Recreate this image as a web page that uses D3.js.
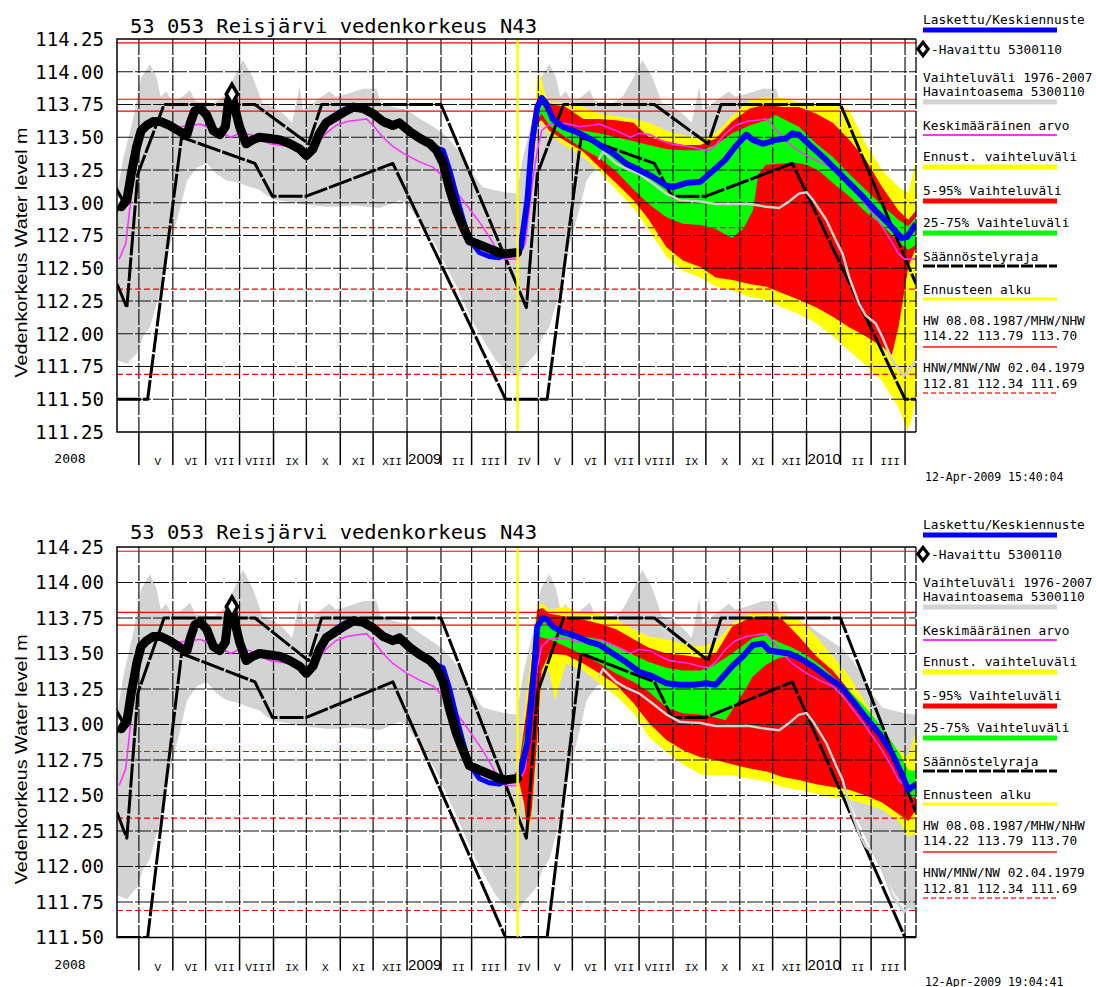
<!DOCTYPE html>
<html><head><meta charset="utf-8">
<script src="https://cdn.jsdelivr.net/npm/d3@7/dist/d3.min.js"></script>
<style>
html,body{margin:0;padding:0;background:#fff;}
svg{display:block;}
</style></head><body>
<svg id="chart" width="1096" height="987" xmlns="http://www.w3.org/2000/svg"></svg>
<script>
// ---------------- DATA ----------------
const titleText = "53 053 Reisjärvi vedenkorkeus N43";
const yAxisTitle = "Vedenkorkeus Water level m";
const yTickLabelsTop = ["114.25","114.00","113.75","113.50","113.25","113.00","112.75","112.50","112.25","112.00","111.75","111.50","111.25"];
const yTickLabelsBottom = ["114.25","114.00","113.75","113.50","113.25","113.00","112.75","112.50","112.25","112.00","111.75","111.50"];
const monthLabels = ["V","VI","VII","VIII","IX","X","XI","XII","2009","II","III","IV","V","VI","VII","VIII","IX","X","XI","XII","2010","II","III"];
const firstYearLabel = "2008";
const timestamps = ["12-Apr-2009 15:40:04", "12-Apr-2009 19:04:41"];
const highLevels = [114.22, 113.79, 113.70];
const lowLevels = [112.81, 112.34, 111.69];
const forecastStart = "2009-04-12";
const dateDomain = ["2008-04-11", "2010-04-11"];

// observed water level (Havaittu 5300110)
const observed = [["2008-04-11",113.02],["2008-04-15",112.97],["2008-04-20",113.02],["2008-04-24",113.22],["2008-04-29",113.43],["2008-05-03",113.55],["2008-05-08",113.59],["2008-05-14",113.62],["2008-05-21",113.62],["2008-05-29",113.59],["2008-06-08",113.54],["2008-06-14",113.52],["2008-06-17",113.61],["2008-06-21",113.70],["2008-06-26",113.72],["2008-07-02",113.67],["2008-07-08",113.55],["2008-07-14",113.52],["2008-07-19",113.58],["2008-07-22",113.78],["2008-07-25",113.83],["2008-07-28",113.71],["2008-08-01",113.58],["2008-08-07",113.45],["2008-08-13",113.48],["2008-08-19",113.50],["2008-08-29",113.49],["2008-09-07",113.48],["2008-09-16",113.45],["2008-09-25",113.41],["2008-10-01",113.36],["2008-10-07",113.41],["2008-10-13",113.53],["2008-10-19",113.61],["2008-10-25",113.64],["2008-11-04",113.69],["2008-11-13",113.73],["2008-11-22",113.72],["2008-12-01",113.68],["2008-12-10",113.62],["2008-12-19",113.59],["2008-12-25",113.61],["2009-01-04",113.54],["2009-01-13",113.49],["2009-01-22",113.45],["2009-01-28",113.40],["2009-02-03",113.30],["2009-02-09",113.10],["2009-02-15",112.94],["2009-02-21",112.82],["2009-02-27",112.71],["2009-03-08",112.68],["2009-03-17",112.65],["2009-03-26",112.62],["2009-04-01",112.61],["2009-04-12",112.62]];

// computed level before forecast start (Laskettu)
const computedHist = [["2008-04-11",113.02],["2008-04-15",112.97],["2008-04-20",113.02],["2008-04-24",113.22],["2008-04-29",113.43],["2008-05-03",113.55],["2008-05-08",113.59],["2008-05-14",113.62],["2008-05-21",113.62],["2008-05-29",113.59],["2008-06-08",113.54],["2008-06-14",113.52],["2008-06-17",113.61],["2008-06-21",113.70],["2008-06-26",113.72],["2008-07-02",113.67],["2008-07-08",113.55],["2008-07-14",113.52],["2008-07-19",113.62],["2008-07-22",113.70],["2008-07-25",113.72],["2008-07-28",113.68],["2008-08-01",113.58],["2008-08-07",113.45],["2008-08-13",113.48],["2008-08-19",113.50],["2008-08-29",113.49],["2008-09-07",113.48],["2008-09-16",113.45],["2008-09-25",113.41],["2008-10-01",113.36],["2008-10-07",113.41],["2008-10-13",113.53],["2008-10-19",113.61],["2008-10-25",113.66],["2008-11-04",113.71],["2008-11-13",113.73],["2008-11-22",113.72],["2008-12-01",113.68],["2008-12-10",113.62],["2008-12-19",113.59],["2008-12-25",113.61],["2009-01-04",113.54],["2009-01-13",113.49],["2009-01-22",113.45],["2009-01-28",113.42],["2009-02-03",113.40],["2009-02-09",113.25],["2009-02-15",113.06],["2009-02-21",112.88],["2009-02-27",112.72],["2009-03-08",112.62],["2009-03-17",112.59],["2009-03-26",112.58],["2009-04-01",112.60],["2009-04-12",112.62]];

// historical range 1976-2007 (one seasonal cycle, starts 11 April)
const climHigh = [["2008-04-11",113.07],["2008-04-17",113.35],["2008-04-26",113.65],["2008-05-03",113.95],["2008-05-11",114.06],["2008-05-17",113.96],["2008-05-21",113.81],["2008-05-26",113.85],["2008-05-31",113.78],["2008-06-08",113.80],["2008-06-17",113.86],["2008-06-21",113.78],["2008-06-29",113.77],["2008-07-08",113.76],["2008-07-17",113.81],["2008-07-26",113.94],["2008-08-04",114.09],["2008-08-13",113.96],["2008-08-22",113.76],["2008-09-01",113.73],["2008-09-10",113.68],["2008-09-18",113.61],["2008-09-25",113.89],["2008-09-28",113.71],["2008-10-07",113.76],["2008-10-15",113.81],["2008-10-22",113.85],["2008-10-28",113.81],["2008-11-07",113.83],["2008-11-22",113.87],["2008-12-04",113.87],["2008-12-08",113.76],["2008-12-19",113.73],["2009-01-01",113.71],["2009-01-13",113.64],["2009-01-25",113.58],["2009-02-03",113.53],["2009-02-12",113.45],["2009-02-21",113.35],["2009-03-02",113.22],["2009-03-11",113.12],["2009-03-20",113.10],["2009-04-01",113.08],["2009-04-11",113.07]];
const climLow = [["2008-04-11",111.80],["2008-04-20",111.77],["2008-04-29",111.85],["2008-05-05",111.98],["2008-05-11",112.05],["2008-05-20",112.31],["2008-05-29",112.66],["2008-06-08",112.97],["2008-06-14",113.17],["2008-06-23",113.27],["2008-07-02",113.30],["2008-07-11",113.22],["2008-07-20",113.17],["2008-08-01",113.15],["2008-08-10",113.12],["2008-08-19",113.10],["2008-08-25",113.06],["2008-09-04",113.02],["2008-09-13",113.01],["2008-09-25",112.99],["2008-10-07",112.98],["2008-10-19",112.97],["2008-11-01",112.97],["2008-11-13",112.98],["2008-11-25",112.97],["2008-12-07",112.96],["2008-12-16",112.99],["2008-12-25",113.02],["2009-01-01",112.99],["2009-01-10",112.89],["2009-01-19",112.79],["2009-01-28",112.66],["2009-02-06",112.51],["2009-02-15",112.36],["2009-02-24",112.20],["2009-03-05",112.05],["2009-03-14",111.92],["2009-03-23",111.80],["2009-04-01",111.72],["2009-04-11",111.68]];
// mean (Keskimääräinen arvo), one seasonal cycle
const climMean = [["2008-04-13",112.57],["2008-04-19",112.69],["2008-04-25",113.12],["2008-04-30",113.40],["2008-05-04",113.55],["2008-05-11",113.60],["2008-05-20",113.61],["2008-05-29",113.60],["2008-06-07",113.58],["2008-06-17",113.59],["2008-06-26",113.60],["2008-07-05",113.57],["2008-07-14",113.54],["2008-07-24",113.50],["2008-08-01",113.53],["2008-08-11",113.52],["2008-08-20",113.48],["2008-08-29",113.45],["2008-09-07",113.44],["2008-09-16",113.43],["2008-09-25",113.41],["2008-10-04",113.40],["2008-10-10",113.44],["2008-10-19",113.53],["2008-10-28",113.59],["2008-11-07",113.62],["2008-11-16",113.63],["2008-11-25",113.64],["2008-12-01",113.59],["2008-12-10",113.50],["2008-12-19",113.43],["2009-01-01",113.36],["2009-01-13",113.31],["2009-01-25",113.27],["2009-02-03",113.20],["2009-02-12",113.11],["2009-02-21",113.02],["2009-03-02",112.92],["2009-03-11",112.82],["2009-03-20",112.70],["2009-03-26",112.61],["2009-04-01",112.57],["2009-04-12",112.57]];

// regulation limits (Säännöstelyraja)
const upperLimit = [["2008-04-11",112.38],["2008-04-20",112.20],["2008-04-30",113.22],["2008-05-24",113.75],["2008-08-15",113.75],["2008-10-03",113.45],["2008-10-15",113.75],["2009-02-01",113.75],["2009-04-20",112.20],["2009-04-30",113.22],["2009-05-24",113.75],["2009-08-15",113.75],["2009-10-03",113.45],["2009-10-15",113.75],["2010-02-01",113.75],["2010-04-11",112.38]];
const lowerLimit = [["2008-04-11",111.50],["2008-05-09",111.50],["2008-06-09",113.50],["2008-08-15",113.30],["2008-08-31",113.05],["2008-10-01",113.05],["2008-12-19",113.30],["2009-04-01",111.50],["2009-05-09",111.50],["2009-06-09",113.50],["2009-08-15",113.30],["2009-08-31",113.05],["2009-10-01",113.05],["2009-12-19",113.30],["2010-04-01",111.50],["2010-04-11",111.50]];

// light grey line in forecast period
const greyLine = [["2009-06-25",113.33],["2009-06-29",113.39],["2009-07-11",113.30],["2009-07-20",113.26],["2009-08-01",113.22],["2009-08-13",113.15],["2009-08-26",113.07],["2009-09-07",113.02],["2009-09-26",113.01],["2009-10-10",112.99],["2009-10-25",112.99],["2009-11-10",112.99],["2009-11-25",112.97],["2009-12-07",112.96],["2009-12-16",113.01],["2009-12-25",113.07],["2010-01-01",113.08],["2010-01-07",113.02],["2010-01-19",112.87],["2010-01-28",112.71],["2010-02-03",112.61],["2010-02-09",112.43],["2010-02-18",112.23],["2010-02-24",112.14],["2010-03-05",112.08],["2010-03-11",111.98],["2010-03-20",111.80],["2010-03-31",111.68],["2010-04-07",111.75],["2010-04-11",111.80]];

// ---- forecast run 1 (15:40) ----
const run1Mean = [["2009-04-12",112.62],["2009-04-15",112.66],["2009-04-21",113.02],["2009-04-25",113.45],["2009-04-30",113.73],["2009-05-04",113.80],["2009-05-08",113.76],["2009-05-14",113.64],["2009-05-23",113.58],["2009-06-05",113.54],["2009-06-17",113.49],["2009-06-26",113.44],["2009-07-08",113.38],["2009-07-20",113.30],["2009-08-01",113.25],["2009-08-13",113.20],["2009-08-26",113.13],["2009-09-01",113.12],["2009-09-13",113.15],["2009-09-26",113.16],["2009-10-07",113.24],["2009-10-19",113.33],["2009-10-28",113.43],["2009-11-07",113.52],["2009-11-13",113.48],["2009-11-22",113.45],["2009-12-04",113.48],["2009-12-13",113.49],["2009-12-19",113.53],["2009-12-25",113.52],["2010-01-04",113.44],["2010-01-16",113.35],["2010-01-28",113.25],["2010-02-09",113.15],["2010-02-21",113.05],["2010-03-05",112.94],["2010-03-17",112.84],["2010-03-29",112.73],["2010-04-03",112.74],["2010-04-11",112.84]];
const run1YellowHi = [["2009-04-12",112.62],["2009-04-18",112.87],["2009-04-24",113.33],["2009-04-30",113.94],["2009-05-02",114.00],["2009-05-07",113.83],["2009-05-11",113.77],["2009-05-26",113.76],["2009-06-11",113.73],["2009-06-26",113.68],["2009-07-11",113.66],["2009-07-27",113.64],["2009-08-10",113.61],["2009-08-26",113.55],["2009-09-10",113.52],["2009-09-26",113.49],["2009-10-10",113.53],["2009-10-25",113.66],["2009-11-10",113.78],["2009-11-25",113.81],["2009-12-10",113.80],["2009-12-25",113.77],["2010-01-10",113.75],["2010-01-25",113.75],["2010-02-09",113.71],["2010-02-24",113.45],["2010-03-11",113.25],["2010-03-26",113.12],["2010-04-04",113.07],["2010-04-11",113.33]];
const run1YellowLo = [["2009-04-12",112.62],["2009-04-18",112.71],["2009-04-24",113.08],["2009-04-30",113.58],["2009-05-04",113.61],["2009-05-11",113.52],["2009-05-26",113.43],["2009-06-11",113.35],["2009-06-26",113.24],["2009-07-11",113.10],["2009-07-27",112.96],["2009-08-10",112.79],["2009-08-26",112.59],["2009-09-10",112.48],["2009-09-26",112.43],["2009-10-10",112.36],["2009-10-25",112.33],["2009-11-10",112.28],["2009-11-25",112.26],["2009-12-10",112.20],["2009-12-25",112.15],["2010-01-10",112.08],["2010-01-25",111.98],["2010-02-09",111.87],["2010-02-24",111.76],["2010-03-11",111.64],["2010-03-26",111.44],["2010-04-03",111.26],["2010-04-07",111.34],["2010-04-11",111.54]];
const run1RedHi = [["2009-04-12",112.62],["2009-04-18",112.82],["2009-04-24",113.25],["2009-04-30",113.78],["2009-05-04",113.81],["2009-05-11",113.76],["2009-05-26",113.73],["2009-06-11",113.64],["2009-06-26",113.64],["2009-07-11",113.63],["2009-07-27",113.61],["2009-08-10",113.50],["2009-08-26",113.47],["2009-09-10",113.44],["2009-09-26",113.44],["2009-10-10",113.49],["2009-10-25",113.62],["2009-11-10",113.72],["2009-11-25",113.75],["2009-12-10",113.73],["2009-12-25",113.73],["2010-01-10",113.68],["2010-01-25",113.61],["2010-02-09",113.48],["2010-02-24",113.33],["2010-03-11",113.12],["2010-03-26",112.94],["2010-04-04",112.87],["2010-04-11",112.94]];
const run1RedLo = [["2009-04-12",112.62],["2009-04-18",112.74],["2009-04-24",113.12],["2009-04-30",113.61],["2009-05-04",113.63],["2009-05-11",113.55],["2009-05-26",113.47],["2009-06-11",113.39],["2009-06-26",113.27],["2009-07-11",113.15],["2009-07-27",113.02],["2009-08-10",112.87],["2009-08-26",112.66],["2009-09-10",112.56],["2009-09-26",112.51],["2009-10-10",112.43],["2009-10-25",112.41],["2009-11-10",112.38],["2009-11-25",112.36],["2009-12-10",112.31],["2009-12-25",112.26],["2010-01-10",112.20],["2010-01-25",112.13],["2010-02-09",112.05],["2010-02-24",111.98],["2010-03-11",111.90],["2010-03-20",111.84],["2010-03-26",112.05],["2010-04-04",112.51],["2010-04-11",112.66]];
const run1GreenHi = [["2009-04-12",112.62],["2009-04-18",112.79],["2009-04-24",113.21],["2009-04-30",113.71],["2009-05-04",113.76],["2009-05-11",113.66],["2009-05-26",113.59],["2009-06-11",113.55],["2009-06-26",113.53],["2009-07-11",113.50],["2009-07-27",113.47],["2009-08-10",113.44],["2009-08-26",113.41],["2009-09-10",113.40],["2009-09-26",113.40],["2009-10-10",113.44],["2009-10-25",113.53],["2009-11-10",113.59],["2009-11-25",113.63],["2009-12-04",113.67],["2009-12-13",113.63],["2009-12-25",113.58],["2010-01-10",113.45],["2010-01-25",113.35],["2010-02-09",113.22],["2010-02-24",113.10],["2010-03-11",112.98],["2010-03-26",112.87],["2010-04-04",112.82],["2010-04-11",112.89]];
const run1GreenLo = [["2009-04-12",112.62],["2009-04-18",112.76],["2009-04-24",113.17],["2009-04-30",113.64],["2009-05-04",113.68],["2009-05-11",113.59],["2009-05-26",113.50],["2009-06-11",113.41],["2009-06-26",113.34],["2009-07-11",113.24],["2009-07-27",113.10],["2009-08-10",112.99],["2009-08-26",112.89],["2009-09-10",112.84],["2009-09-26",112.83],["2009-10-10",112.80],["2009-10-25",112.73],["2009-11-04",112.80],["2009-11-13",112.94],["2009-11-18",113.22],["2009-11-25",113.29],["2009-12-10",113.30],["2009-12-19",113.31],["2010-01-01",113.29],["2010-01-13",113.24],["2010-01-25",113.15],["2010-02-09",113.05],["2010-02-24",112.93],["2010-03-11",112.83],["2010-03-26",112.70],["2010-04-04",112.64],["2010-04-11",112.68]];

// ---- forecast run 2 (19:04) ----
const run2Mean = [["2009-04-12",112.64],["2009-04-15",112.68],["2009-04-21",112.87],["2009-04-27",113.38],["2009-04-30",113.69],["2009-05-05",113.75],["2009-05-09",113.74],["2009-05-14",113.69],["2009-05-23",113.65],["2009-06-05",113.62],["2009-06-17",113.58],["2009-06-26",113.56],["2009-07-08",113.50],["2009-07-20",113.44],["2009-08-01",113.37],["2009-08-13",113.34],["2009-08-26",113.29],["2009-09-07",113.28],["2009-09-20",113.28],["2009-10-01",113.29],["2009-10-10",113.28],["2009-10-17",113.34],["2009-10-25",113.41],["2009-11-04",113.48],["2009-11-13",113.56],["2009-11-22",113.57],["2009-11-28",113.52],["2009-12-07",113.51],["2009-12-16",113.50],["2009-12-25",113.47],["2010-01-07",113.41],["2010-01-19",113.34],["2010-02-01",113.27],["2010-02-12",113.17],["2010-02-24",113.05],["2010-03-08",112.94],["2010-03-20",112.80],["2010-03-29",112.65],["2010-04-04",112.54],["2010-04-11",112.58]];
const run2YellowHi = [["2009-04-12",112.64],["2009-04-21",113.27],["2009-04-30",113.85],["2009-05-05",113.85],["2009-05-11",113.81],["2009-05-26",113.83],["2009-06-11",113.78],["2009-06-26",113.78],["2009-07-11",113.74],["2009-07-27",113.67],["2009-08-10",113.62],["2009-08-26",113.60],["2009-09-10",113.57],["2009-09-26",113.55],["2009-10-10",113.58],["2009-10-25",113.71],["2009-11-10",113.78],["2009-11-25",113.78],["2009-12-10",113.78],["2009-12-25",113.74],["2010-01-10",113.62],["2010-01-25",113.48],["2010-02-09",113.34],["2010-02-24",113.15],["2010-03-11",112.96],["2010-03-26",112.82],["2010-04-04",112.77],["2010-04-11",112.96]];
const run2YellowLo = [["2009-04-12",112.64],["2009-04-18",112.40],["2009-04-21",112.21],["2009-04-25",112.35],["2009-04-30",112.87],["2009-05-04",113.31],["2009-05-11",113.38],["2009-05-16",113.17],["2009-05-20",113.27],["2009-05-26",113.43],["2009-06-11",113.38],["2009-06-26",113.29],["2009-07-11",113.20],["2009-07-27",113.08],["2009-08-10",112.91],["2009-08-26",112.81],["2009-09-10",112.72],["2009-09-26",112.65],["2009-10-10",112.64],["2009-10-25",112.64],["2009-11-10",112.62],["2009-11-25",112.60],["2009-12-10",112.56],["2009-12-25",112.54],["2010-01-10",112.51],["2010-01-25",112.49],["2010-02-09",112.47],["2010-02-24",112.44],["2010-03-11",112.40],["2010-03-26",112.32],["2010-04-04",112.21],["2010-04-11",112.23]];
const run2RedHi = [["2009-04-12",112.64],["2009-04-21",113.15],["2009-04-30",113.81],["2009-05-05",113.82],["2009-05-11",113.78],["2009-05-26",113.76],["2009-06-11",113.74],["2009-06-26",113.71],["2009-07-11",113.67],["2009-07-27",113.60],["2009-08-10",113.54],["2009-08-26",113.50],["2009-09-10",113.49],["2009-09-26",113.47],["2009-10-10",113.50],["2009-10-25",113.69],["2009-11-10",113.75],["2009-11-25",113.76],["2009-12-10",113.74],["2009-12-25",113.62],["2010-01-10",113.48],["2010-01-25",113.38],["2010-02-09",113.24],["2010-02-24",113.08],["2010-03-11",112.89],["2010-03-26",112.72],["2010-04-04",112.65],["2010-04-11",112.68]];
const run2RedLo = [["2009-04-12",112.64],["2009-04-18",112.44],["2009-04-21",112.23],["2009-04-25",112.40],["2009-04-30",112.91],["2009-05-04",113.38],["2009-05-11",113.50],["2009-05-26",113.49],["2009-06-11",113.43],["2009-06-26",113.36],["2009-07-11",113.28],["2009-07-27",113.15],["2009-08-10",113.01],["2009-08-26",112.89],["2009-09-10",112.82],["2009-09-26",112.77],["2009-10-10",112.75],["2009-10-25",112.72],["2009-11-10",112.69],["2009-11-25",112.67],["2009-12-10",112.63],["2009-12-25",112.61],["2010-01-10",112.58],["2010-01-25",112.56],["2010-02-09",112.54],["2010-02-24",112.50],["2010-03-11",112.45],["2010-03-26",112.37],["2010-04-04",112.32],["2010-04-11",112.40]];
const run2GreenHi = [["2009-04-12",112.64],["2009-04-21",113.03],["2009-04-30",113.74],["2009-05-05",113.76],["2009-05-14",113.70],["2009-05-26",113.65],["2009-06-11",113.62],["2009-06-26",113.60],["2009-07-11",113.55],["2009-07-27",113.49],["2009-08-10",113.44],["2009-08-26",113.40],["2009-09-10",113.38],["2009-09-26",113.38],["2009-10-07",113.41],["2009-10-19",113.47],["2009-11-01",113.54],["2009-11-13",113.61],["2009-11-25",113.63],["2009-12-07",113.58],["2009-12-19",113.54],["2010-01-01",113.49],["2010-01-13",113.42],["2010-01-25",113.34],["2010-02-09",113.24],["2010-02-24",113.12],["2010-03-11",112.98],["2010-03-26",112.81],["2010-04-04",112.68],["2010-04-11",112.67]];
const run2GreenLo = [["2009-04-12",112.64],["2009-04-21",112.91],["2009-04-30",113.62],["2009-05-11",113.60],["2009-05-26",113.55],["2009-06-11",113.49],["2009-06-26",113.43],["2009-07-11",113.36],["2009-07-27",113.30],["2009-08-10",113.23],["2009-08-26",113.12],["2009-09-10",113.08],["2009-09-26",113.07],["2009-10-10",113.05],["2009-10-19",113.03],["2009-10-25",113.10],["2009-11-04",113.22],["2009-11-13",113.34],["2009-11-25",113.42],["2009-12-07",113.47],["2009-12-19",113.48],["2010-01-01",113.42],["2010-01-13",113.36],["2010-01-25",113.29],["2010-02-09",113.17],["2010-02-24",113.04],["2010-03-11",112.89],["2010-03-26",112.70],["2010-04-04",112.48],["2010-04-11",112.49]];

const legendTexts = {
  mean: "Laskettu/Keskiennuste", obs: "-Havaittu 5300110",
  range1: "Vaihteluväli 1976-2007", range2: "Havaintoasema 5300110",
  avg: "Keskimääräinen arvo", fcRange: "Ennust. vaihteluväli",
  r595: "5-95% Vaihteluväli", r2575: "25-75% Vaihteluväli",
  reg: "Säännöstelyraja", start: "Ennusteen alku",
  hw1: "HW 08.08.1987/MHW/NHW", hw2: "114.22 113.79 113.70",
  nw1: "HNW/MNW/NW 02.04.1979", nw2: "112.81 112.34 111.69"
};

// ---------------- DRAWING ----------------
const parse = d3.utcParse("%Y-%m-%d");
const P = arr => arr.map(([d, v]) => [parse(d), v]);
const nextYear = arr => arr.map(([d, v]) => [d3.utcYear.offset(d, 1), v]);

const x = d3.scaleUtc().domain(dateDomain.map(parse)).range([117, 916]);
const svg = d3.select("#chart");
const defs = svg.append("defs");
const MONO = "'DejaVu Sans Mono', monospace";
const SERIFMONO = "'Liberation Mono', monospace";
const SANS = "'Liberation Sans', Arial, sans-serif";

const climHighAll = P(climHigh).concat(nextYear(P(climHigh)).slice(1));
const climLowAll = P(climLow).concat(nextYear(P(climLow)).slice(1));
const climMeanAll = P(climMean).concat(nextYear(P(climMean)).slice(1));

const panels = [
  { id: "a", yTicks: yTickLabelsTop, range: [432, 39], off: 0, titleOff: 0, stamp: timestamps[0],
    fc: { mean: run1Mean, yHi: run1YellowHi, yLo: run1YellowLo, rHi: run1RedHi, rLo: run1RedLo, gHi: run1GreenHi, gLo: run1GreenLo } },
  { id: "b", yTicks: yTickLabelsBottom, range: [937.5, 547], off: 505, titleOff: 506, stamp: timestamps[1],
    fc: { mean: run2Mean, yHi: run2YellowHi, yLo: run2YellowLo, rHi: run2RedHi, rLo: run2RedLo, gHi: run2GreenHi, gLo: run2GreenLo } }
];

panels.forEach(p => {
  const vals = p.yTicks.map(Number);
  const y = d3.scaleLinear().domain([d3.min(vals), d3.max(vals)]).range(p.range);
  const x0 = x.range()[0], x1 = x.range()[1];
  const yB = p.range[0], yT = p.range[1];
  const g = svg.append("g");
  defs.append("clipPath").attr("id", "clip" + p.id)
    .append("rect").attr("x", x0).attr("y", yT).attr("width", x1 - x0).attr("height", yB - yT);
  const plot = g.append("g").attr("clip-path", `url(#clip${p.id})`);
  const line = d3.line().x(d => x(d[0])).y(d => y(d[1]));
  const poly = (hi, lo) => line(hi.concat(lo.slice().reverse())) + "Z";

  // historical range band
  plot.append("path").attr("d", poly(climHighAll, climLowAll)).attr("fill", "#d3d3d3");
  // forecast bands
  const f = p.fc;
  plot.append("path").attr("d", poly(P(f.yHi), P(f.yLo))).attr("fill", "#ffff00");
  plot.append("path").attr("d", poly(P(f.rHi), P(f.rLo))).attr("fill", "#ff0000");
  plot.append("path").attr("d", poly(P(f.gHi), P(f.gLo))).attr("fill", "#00ff00");

  // grid
  const months = d3.utcMonth.range(parse("2008-05-01"), parse("2010-04-02"));
  plot.append("g").selectAll("line").data(vals.slice(1, -1)).join("line")
    .attr("x1", x0).attr("x2", x1).attr("y1", d => y(d)).attr("y2", d => y(d))
    .attr("stroke", "#111").attr("stroke-width", 1.2).attr("stroke-dasharray", "16,2");
  plot.append("g").selectAll("line").data(months).join("line")
    .attr("x1", d => x(d)).attr("x2", d => x(d)).attr("y1", yT).attr("y2", yB)
    .attr("stroke", "#111").attr("stroke-width", 1.2).attr("stroke-dasharray", "16,2");

  // reference levels
  plot.append("g").selectAll("line").data(highLevels).join("line")
    .attr("x1", x0).attr("x2", x1).attr("y1", d => y(d)).attr("y2", d => y(d))
    .attr("stroke", "#ff0000").attr("stroke-width", 1.2);
  plot.append("g").selectAll("line").data(lowLevels).join("line")
    .attr("x1", x0).attr("x2", x1).attr("y1", d => y(d)).attr("y2", d => y(d))
    .attr("stroke", "#ff0000").attr("stroke-width", 1.2).attr("stroke-dasharray", "6,3");

  // regulation limits
  [upperLimit, lowerLimit].forEach(arr => {
    plot.append("path").attr("d", line(P(arr))).attr("fill", "none")
      .attr("stroke", "#000").attr("stroke-width", 3).attr("stroke-dasharray", "24,2")
      .attr("stroke-linejoin", "round");
  });

  // light grey line
  plot.append("path").attr("d", line(P(greyLine))).attr("fill", "none")
    .attr("stroke", "#d0d0d0").attr("stroke-width", 2.5);
  // mean
  plot.append("path").attr("d", line(climMeanAll)).attr("fill", "none")
    .attr("stroke", "#ff33ff").attr("stroke-width", 1.6);
  // computed + forecast mean
  plot.append("path").attr("d", line(P(computedHist))).attr("fill", "none")
    .attr("stroke", "#0000ff").attr("stroke-width", 5).attr("stroke-linejoin", "round");
  plot.append("path").attr("d", line(P(f.mean))).attr("fill", "none")
    .attr("stroke", "#0000ff").attr("stroke-width", 6).attr("stroke-linejoin", "round");
  // observed
  const obs = P(observed);
  plot.append("path").attr("d", line(obs)).attr("fill", "none")
    .attr("stroke", "#000").attr("stroke-width", 9).attr("stroke-linejoin", "round").attr("stroke-linecap", "round");
  const diamond = d3.symbol(d3.symbolDiamond).size(110);
  [obs[0], obs[20]].forEach(d => {
    plot.append("path").attr("d", diamond()).attr("transform", `translate(${x(d[0])},${y(d[1])})`)
      .attr("fill", "#fff").attr("stroke", "#000").attr("stroke-width", 3.5);
  });
  // forecast start
  plot.append("line").attr("x1", x(parse(forecastStart))).attr("x2", x(parse(forecastStart)))
    .attr("y1", yT).attr("y2", yB).attr("stroke", "#ffff00").attr("stroke-width", 2.5);

  // frame
  g.append("path").attr("d", `M${x1},${yT}H${x0}V${yB}H${x1}`).attr("fill", "none").attr("stroke", "#000").attr("stroke-width", 1.5);
  g.append("line").attr("x1", x1).attr("x2", x1).attr("y1", yT).attr("y2", yB)
    .attr("stroke", "#000").attr("stroke-width", 1.3).attr("stroke-dasharray", "16,2");

  // y tick labels
  g.append("g").selectAll("text").data(p.yTicks).join("text")
    .attr("x", 104).attr("y", d => y(+d)).attr("dy", "0.36em").attr("text-anchor", "end")
    .attr("font-family", MONO).attr("font-size", 19).text(d => d);
  // y axis title
  g.append("text").attr("transform", `translate(27,${(yT + yB) / 2 + 17}) rotate(-90)`)
    .attr("text-anchor", "middle").attr("font-family", SANS).attr("font-size", 17)
    .attr("textLength", 250).attr("lengthAdjust", "spacingAndGlyphs").text(yAxisTitle);
  // title
  g.append("text").attr("x", 130).attr("y", 33 + p.titleOff).attr("font-family", MONO).attr("font-size", 20)
    .attr("textLength", 407).attr("lengthAdjust", "spacingAndGlyphs").text(titleText);

  // x axis ticks & labels
  g.append("g").selectAll("line").data(months).join("line")
    .attr("x1", d => x(d)).attr("x2", d => x(d)).attr("y1", yB).attr("y2", yB + 33)
    .attr("stroke", "#000").attr("stroke-width", 1.5);
  const labMonths = months.slice(0, monthLabels.length);
  labMonths.forEach((m, i) => {
    const lab = monthLabels[i];
    const isYear = /^\d{4}$/.test(lab);
    if (isYear) {
      g.append("text").attr("x", x(m) + 1).attr("y", yB + 32).attr("font-family", SANS)
        .attr("font-size", 15).text(lab);
    } else {
      const mid = (x(m) + x(d3.utcMonth.offset(m, 1))) / 2;
      g.append("text").attr("x", mid + 2).attr("y", yB + 33).attr("text-anchor", "middle")
        .attr("font-family", SERIFMONO).attr("font-size", 11).text(lab);
    }
  });
  g.append("text").attr("x", 70).attr("y", yB + 31).attr("text-anchor", "middle")
    .attr("font-family", MONO).attr("font-size", 13).text(firstYearLabel);

  // legend
  const L = g.append("g").attr("transform", `translate(0,${p.off})`);
  const lx = 923, lw = 134;
  const t = (txt, yc, opts = {}) => L.append("text").attr("x", opts.x || lx).attr("y", yc + 4.5)
    .attr("font-family", MONO).attr("font-size", opts.fs || 12.8).text(txt);
  const ln = (yc, col, w, dash) => {
    const l = L.append("line").attr("x1", lx).attr("x2", lx + lw).attr("y1", yc).attr("y2", yc)
      .attr("stroke", col).attr("stroke-width", w);
    if (dash) l.attr("stroke-dasharray", dash);
  };
  t(legendTexts.mean, 19); ln(30, "#0000ff", 5);
  L.append("path").attr("d", d3.symbol(d3.symbolDiamond).size(70)()).attr("transform", `translate(${lx},49) scale(1.15,0.85)`)
    .attr("fill", "#fff").attr("stroke", "#000").attr("stroke-width", 3);
  t(legendTexts.obs, 49, { x: 931 });
  t(legendTexts.range1, 77); t(legendTexts.range2, 91); ln(102, "#d3d3d3", 5);
  t(legendTexts.avg, 125); ln(135, "#ff33ff", 2);
  t(legendTexts.fcRange, 156); ln(167, "#ffff00", 5);
  t(legendTexts.r595, 190); ln(201, "#ff0000", 5);
  t(legendTexts.r2575, 222); ln(233, "#00ff00", 5);
  t(legendTexts.reg, 256); ln(266, "#000", 3, "12,2");
  t(legendTexts.start, 289); ln(299, "#ffff00", 3);
  t(legendTexts.hw1, 320); t(legendTexts.hw2, 335); ln(347, "#ff5050", 2);
  t(legendTexts.nw1, 367); t(legendTexts.nw2, 383); ln(393, "#ff3030", 1.5, "5,3");
  t(p.stamp, 476, { fs: 11.5, x: 925 });
});
</script>
</body></html>
